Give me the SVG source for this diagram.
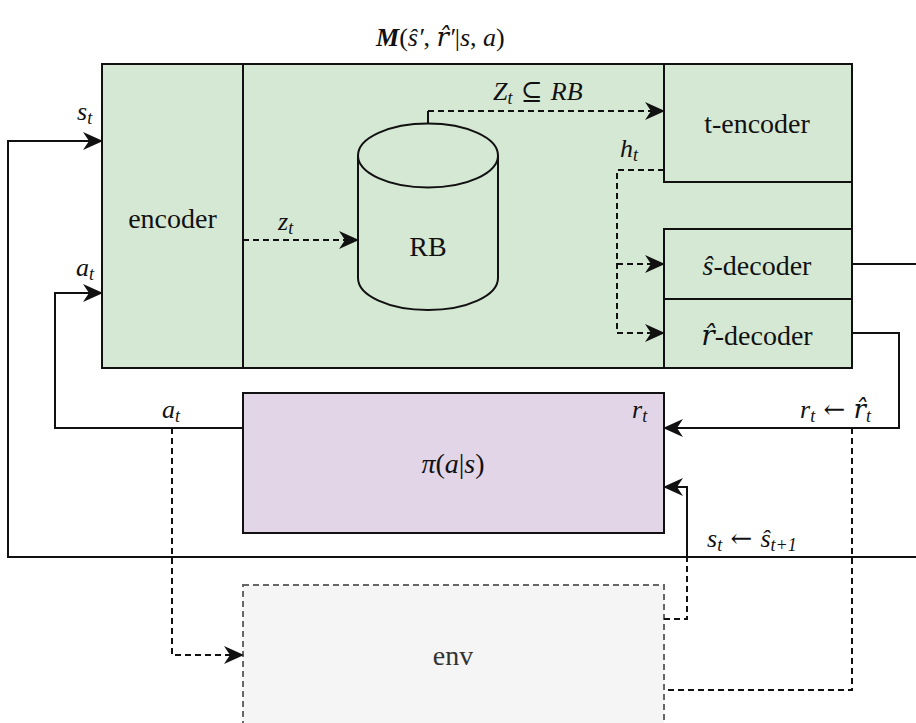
<svg xmlns="http://www.w3.org/2000/svg" width="916" height="723" viewBox="0 0 916 723">
<defs>
<style>
.f{font-family:"Liberation Serif",serif;fill:#111}
.dv{font-family:"DejaVu Serif",serif}
.box{stroke:#111;stroke-width:2}
.green{fill:#d5e8d4}
.purple{fill:#e1d5e7}
.env{fill:#f5f5f5;stroke:#666;stroke-width:2;stroke-dasharray:6 4}
.ln{fill:none;stroke:#111;stroke-width:2}
.dash{stroke-dasharray:6 4}
.lbl{font-size:28px;text-anchor:middle}
.m{font-size:26px;font-style:italic}
.sub{font-size:18px}
.i{font-style:italic}
.n{font-style:normal}
</style>
<marker id="arr" viewBox="0 -9 20 18" refX="19" refY="0" markerWidth="20" markerHeight="18" markerUnits="userSpaceOnUse" orient="auto">
<path d="M0,-9 L20,0 L0,9 L6,0 Z" fill="#111" stroke="none"/>
</marker>
</defs>

<g id="title">
<text class="f" x="376" y="46" style="font-size:26px;font-style:italic"><tspan font-weight="bold">M</tspan><tspan class="n">(</tspan>ŝ′<tspan class="n">,</tspan> <tspan class="dv">r̂</tspan>′<tspan class="n">|</tspan>s<tspan class="n">,</tspan> a<tspan class="n">)</tspan></text>
</g>

<g id="model">
<rect class="box green" x="102" y="64" width="750" height="304"/>
</g>
<g id="encoder">
<rect class="box green" x="102" y="64" width="141" height="304"/>
<text class="f lbl" x="172.5" y="228">encoder</text>
</g>
<g id="rb">
<path class="box green" d="M358,155.5 A70,32 0 0 1 498,155.5 L498,278 A70,32 0 0 1 358,278 Z"/>
<path class="box" fill="none" d="M358,155.5 A70,32 0 0 0 498,155.5"/>
<text class="f lbl" x="428" y="256">RB</text>
</g>
<g id="t-encoder">
<rect class="box green" x="664" y="64" width="188" height="118"/>
<text class="f lbl" x="757" y="133">t-encoder</text>
</g>
<g id="s-decoder">
<rect class="box green" x="664" y="229" width="188" height="70"/>
<text class="f lbl" x="757" y="275"><tspan class="i">ŝ</tspan>-decoder</text>
</g>
<g id="r-decoder">
<rect class="box green" x="664" y="299" width="188" height="69"/>
<text class="f lbl" x="757" y="345"><tspan class="i dv">r̂</tspan>-decoder</text>
</g>
<g id="policy">
<rect class="box purple" x="243" y="393" width="421" height="140"/>
<text class="f lbl" x="453" y="473"><tspan class="i">π</tspan>(<tspan class="i">a</tspan>|<tspan class="i">s</tspan>)</text>
</g>
<g id="env">
<rect class="env" x="243" y="585" width="421" height="160"/>
<text class="f lbl" x="453" y="665" style="fill:#333">env</text>
</g>

<g id="connectors">
<path class="ln" d="M916,557 L8,557 L8,141 L102,141" marker-end="url(#arr)"/>
<path class="ln" d="M852,264 L916,264"/>
<path class="ln" d="M243,428 L55,428 L55,293 L102,293" marker-end="url(#arr)"/>
<path class="ln" d="M852,333 L899,333 L899,428 L664,428" marker-end="url(#arr)"/>
<path class="ln" d="M687,557 L687,487 L664,487" marker-end="url(#arr)"/>
<path class="ln dash" d="M664,619 L687,619 L687,557"/>
<path class="ln dash" d="M852,428 L852,690 L664,690"/>
<path class="ln dash" d="M172,428 L172,655 L243,655" marker-end="url(#arr)"/>
<path class="ln dash" d="M243,240 L358,240" marker-end="url(#arr)"/>
<path class="ln" d="M428,123 L428,111"/>
<path class="ln dash" d="M428,111 L664,111" marker-end="url(#arr)"/>
<path class="ln dash" d="M664,170 L617,170 L617,333 L664,333" marker-end="url(#arr)"/>
<path class="ln dash" d="M617,264 L664,264" marker-end="url(#arr)"/>
</g>

<g id="labels">
<text class="f m" x="77" y="120">s<tspan class="sub" dy="4">t</tspan></text>
<text class="f m" x="76" y="276">a<tspan class="sub" dy="4">t</tspan></text>
<text class="f m" x="278" y="230">z<tspan class="sub" dy="4">t</tspan></text>
<text class="f m" x="493" y="100">Z<tspan class="sub" dy="4">t</tspan><tspan dy="-4" class="n dv"> ⊆ </tspan>RB</text>
<text class="f m" x="620" y="157">h<tspan class="sub" dy="4">t</tspan></text>
<text class="f m" x="162" y="418">a<tspan class="sub" dy="4">t</tspan></text>
<text class="f m" x="632" y="418">r<tspan class="sub" dy="4">t</tspan></text>
<text class="f m" x="800" y="418">r<tspan class="sub" dy="4">t</tspan><tspan dy="-4" class="n dv"> ← </tspan><tspan class="dv">r̂</tspan><tspan class="sub" dy="4">t</tspan></text>
<text class="f m" x="707" y="547">s<tspan class="sub" dy="4">t</tspan><tspan dy="-4" class="n dv"> ← </tspan>ŝ<tspan class="sub" dy="4">t+1</tspan></text>
</g>
</svg>
